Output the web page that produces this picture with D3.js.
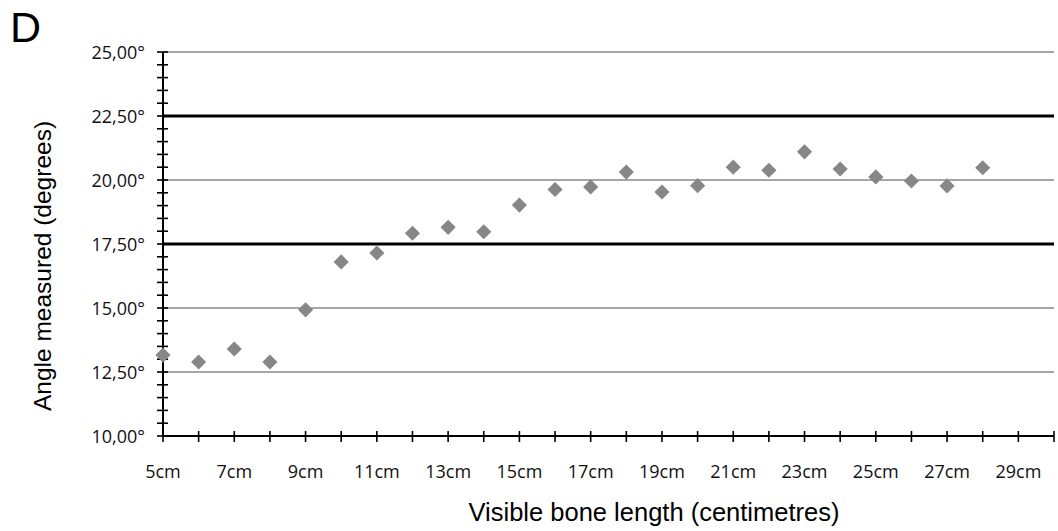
<!DOCTYPE html>
<html>
<head>
<meta charset="utf-8">
<script src="https://cdn.jsdelivr.net/npm/d3@7"></script>
<style>
  html, body { margin: 0; padding: 0; background: #fff; }
  svg { display: block; }
</style>
</head>
<body>
<svg id="chart" width="1058" height="531"></svg>
<script>
// Data
const lengths = [5,6,7,8,9,10,11,12,13,14,15,16,17,18,19,20,21,22,23,24,25,26,27,28];
const angles  = [13.16,12.89,13.40,12.89,14.93,16.80,17.15,17.92,18.15,17.98,19.02,19.63,19.73,20.31,19.53,19.78,20.50,20.38,21.10,20.43,20.12,19.96,19.77,20.48];
const xTickLabels = ["5cm","7cm","9cm","11cm","13cm","15cm","17cm","19cm","21cm","23cm","25cm","27cm","29cm"];
const xTickValues = [5,7,9,11,13,15,17,19,21,23,25,27,29];
const yTickValues = [10,12.5,15,17.5,20,22.5,25];
const yTickLabels = ["10,00°","12,50°","15,00°","17,50°","20,00°","22,50°","25,00°"];
const refLines = [17.5, 22.5];
const gridValues = [12.5, 15, 20, 25];

const svg = d3.select("#chart");
const mLeft = 163, mRight = 1054, mTop = 52, mBottom = 436;

const x = d3.scaleLinear().domain([5, 30]).range([mLeft, mRight]);
const y = d3.scaleLinear().domain([10, 25]).range([mBottom, mTop]);

// Grid lines
svg.append("g").selectAll("line").data(gridValues).join("line")
  .attr("x1", mLeft).attr("x2", mRight)
  .attr("y1", d => y(d)).attr("y2", d => y(d))
  .attr("stroke", "#a6a6a6").attr("stroke-width", 2);

// Reference lines
svg.append("g").selectAll("line").data(refLines).join("line")
  .attr("x1", mLeft).attr("x2", mRight)
  .attr("y1", d => y(d)).attr("y2", d => y(d))
  .attr("stroke", "#000").attr("stroke-width", 3);

// Y axis minor ticks (every 0.5)
const yMinor = d3.range(10, 25.01, 0.5);
svg.append("g").selectAll("line").data(yMinor).join("line")
  .attr("x1", mLeft - 6).attr("x2", mLeft + 5)
  .attr("y1", d => y(d)).attr("y2", d => y(d))
  .attr("stroke", "#000").attr("stroke-width", 1.6);

// X axis ticks (every 1cm)
const xMinor = d3.range(5, 30.01, 1);
svg.append("g").selectAll("line").data(xMinor).join("line")
  .attr("x1", d => x(d)).attr("x2", d => x(d))
  .attr("y1", mBottom - 5).attr("y2", mBottom + 6)
  .attr("stroke", "#000").attr("stroke-width", 1.6);

// Axis lines
svg.append("line").attr("x1", mLeft).attr("x2", mLeft).attr("y1", mTop).attr("y2", mBottom)
  .attr("stroke", "#000").attr("stroke-width", 2);
svg.append("line").attr("x1", mLeft).attr("x2", mRight).attr("y1", mBottom).attr("y2", mBottom)
  .attr("stroke", "#000").attr("stroke-width", 2);

// Y tick labels
svg.append("g").selectAll("text").data(yTickValues).join("text")
  .attr("x", 145).attr("y", d => y(d) + 6.5)
  .attr("text-anchor", "end")
  .attr("font-family", "'Open Sans', sans-serif").attr("font-size", 18)
  .attr("fill", "#111")
  .text((d, i) => yTickLabels[i]);

// X tick labels
svg.append("g").selectAll("text").data(xTickValues).join("text")
  .attr("x", d => x(d)).attr("y", 478)
  .attr("text-anchor", "middle")
  .attr("font-family", "'Open Sans', sans-serif").attr("font-size", 18)
  .attr("fill", "#111")
  .text((d, i) => xTickLabels[i]);

// Points (diamonds)
const sym = d3.symbol().type(d3.symbolSquare).size(115);
svg.append("g").selectAll("path").data(lengths).join("path")
  .attr("d", sym)
  .attr("transform", (d, i) => `translate(${x(d)},${y(angles[i])}) rotate(45)`)
  .attr("fill", "#878787");

// Axis titles
svg.append("text").attr("x", 654).attr("y", 521)
  .attr("text-anchor", "middle")
  .attr("font-family", "'Liberation Sans', Arial, sans-serif").attr("font-size", 25.5)
  .attr("fill", "#000")
  .text("Visible bone length (centimetres)");

svg.append("text")
  .attr("transform", "translate(51,266) rotate(-90)")
  .attr("text-anchor", "middle")
  .attr("font-family", "'Liberation Sans', Arial, sans-serif").attr("font-size", 24.5)
  .attr("fill", "#000")
  .text("Angle measured (degrees)");

// Panel letter
svg.append("text").attr("x", 10).attr("y", 42)
  .attr("font-family", "'Liberation Sans', Arial, sans-serif").attr("font-size", 43)
  .attr("fill", "#000")
  .text("D");
</script>
</body>
</html>
